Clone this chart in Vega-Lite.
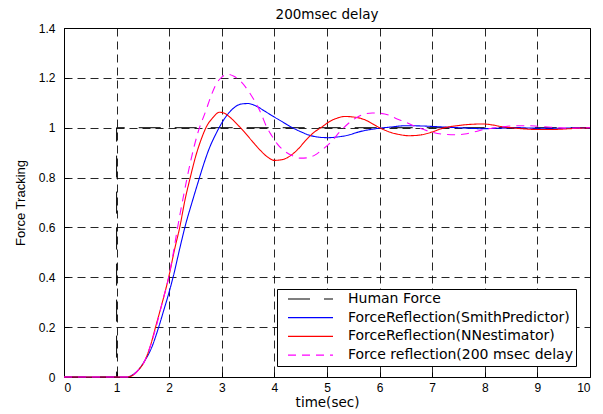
{
  "$schema": "https://vega.github.io/schema/vega-lite/v6.json",
  "width": 526,
  "height": 349,
  "autosize": {"type": "none"},
  "padding": {"left": 64, "top": 28, "right": 13, "bottom": 37},
  "background": "white",
  "title": {"text": "200msec delay", "font": "DejaVu Sans", "fontSize": 13.5, "fontWeight": "normal", "color": "black", "offset": 1, "anchor": "middle"},
  "config": {
    "view": {"stroke": "black", "strokeWidth": 1},
    "axis": {
      "domain": false,
      "grid": true,
      "gridColor": "#000000",
      "gridOpacity": 0.85,
      "gridDash": [8, 5],
      "gridWidth": 1,
      "ticks": true,
      "tickColor": "black",
      "tickSize": -5,
      "labelFont": "Liberation Sans",
      "labelFontSize": 12,
      "labelColor": "black",
      "titleColor": "black",
      "titleFontWeight": "normal"
    }
  },
  "data": {
    "values": [
      {"series": "Human Force", "time": 0, "force": 0},
      {"series": "Human Force", "time": 1, "force": 1},
      {"series": "Human Force", "time": 10, "force": 1},

      {"series": "ForceReflection(SmithPredictor)", "time": 0, "force": 0},
      {"series": "ForceReflection(SmithPredictor)", "time": 1.2, "force": 0},
      {"series": "ForceReflection(SmithPredictor)", "time": 1.3, "force": 0.008},
      {"series": "ForceReflection(SmithPredictor)", "time": 1.4, "force": 0.025},
      {"series": "ForceReflection(SmithPredictor)", "time": 1.52, "force": 0.06},
      {"series": "ForceReflection(SmithPredictor)", "time": 1.67, "force": 0.12},
      {"series": "ForceReflection(SmithPredictor)", "time": 1.8, "force": 0.2},
      {"series": "ForceReflection(SmithPredictor)", "time": 1.9, "force": 0.27},
      {"series": "ForceReflection(SmithPredictor)", "time": 1.99, "force": 0.334},
      {"series": "ForceReflection(SmithPredictor)", "time": 2.09, "force": 0.414},
      {"series": "ForceReflection(SmithPredictor)", "time": 2.2, "force": 0.515},
      {"series": "ForceReflection(SmithPredictor)", "time": 2.31, "force": 0.61},
      {"series": "ForceReflection(SmithPredictor)", "time": 2.44, "force": 0.705},
      {"series": "ForceReflection(SmithPredictor)", "time": 2.54, "force": 0.775},
      {"series": "ForceReflection(SmithPredictor)", "time": 2.65, "force": 0.85},
      {"series": "ForceReflection(SmithPredictor)", "time": 2.76, "force": 0.916},
      {"series": "ForceReflection(SmithPredictor)", "time": 2.89, "force": 0.976},
      {"series": "ForceReflection(SmithPredictor)", "time": 3.08, "force": 1.045},
      {"series": "ForceReflection(SmithPredictor)", "time": 3.22, "force": 1.078},
      {"series": "ForceReflection(SmithPredictor)", "time": 3.37, "force": 1.095},
      {"series": "ForceReflection(SmithPredictor)", "time": 3.5, "force": 1.097},
      {"series": "ForceReflection(SmithPredictor)", "time": 3.66, "force": 1.086},
      {"series": "ForceReflection(SmithPredictor)", "time": 3.82, "force": 1.066},
      {"series": "ForceReflection(SmithPredictor)", "time": 3.98, "force": 1.045},
      {"series": "ForceReflection(SmithPredictor)", "time": 4.15, "force": 1.024},
      {"series": "ForceReflection(SmithPredictor)", "time": 4.3, "force": 1.005},
      {"series": "ForceReflection(SmithPredictor)", "time": 4.5, "force": 0.984},
      {"series": "ForceReflection(SmithPredictor)", "time": 4.68, "force": 0.969},
      {"series": "ForceReflection(SmithPredictor)", "time": 4.85, "force": 0.962},
      {"series": "ForceReflection(SmithPredictor)", "time": 5.02, "force": 0.96},
      {"series": "ForceReflection(SmithPredictor)", "time": 5.2, "force": 0.963},
      {"series": "ForceReflection(SmithPredictor)", "time": 5.4, "force": 0.97},
      {"series": "ForceReflection(SmithPredictor)", "time": 5.6, "force": 0.983},
      {"series": "ForceReflection(SmithPredictor)", "time": 5.86, "force": 0.994},
      {"series": "ForceReflection(SmithPredictor)", "time": 6.18, "force": 1.002},
      {"series": "ForceReflection(SmithPredictor)", "time": 6.5, "force": 1.008},
      {"series": "ForceReflection(SmithPredictor)", "time": 6.8, "force": 1.007},
      {"series": "ForceReflection(SmithPredictor)", "time": 7.1, "force": 1.004},
      {"series": "ForceReflection(SmithPredictor)", "time": 7.4, "force": 1.001},
      {"series": "ForceReflection(SmithPredictor)", "time": 7.7, "force": 0.998},
      {"series": "ForceReflection(SmithPredictor)", "time": 7.95, "force": 0.996},
      {"series": "ForceReflection(SmithPredictor)", "time": 8.25, "force": 0.998},
      {"series": "ForceReflection(SmithPredictor)", "time": 8.6, "force": 1.0},
      {"series": "ForceReflection(SmithPredictor)", "time": 9.0, "force": 0.998},
      {"series": "ForceReflection(SmithPredictor)", "time": 9.4, "force": 0.998},
      {"series": "ForceReflection(SmithPredictor)", "time": 10, "force": 1.0},

      {"series": "ForceReflection(NNestimator)", "time": 0, "force": 0},
      {"series": "ForceReflection(NNestimator)", "time": 1.2, "force": 0},
      {"series": "ForceReflection(NNestimator)", "time": 1.3, "force": 0.006},
      {"series": "ForceReflection(NNestimator)", "time": 1.4, "force": 0.025},
      {"series": "ForceReflection(NNestimator)", "time": 1.54, "force": 0.067},
      {"series": "ForceReflection(NNestimator)", "time": 1.65, "force": 0.13},
      {"series": "ForceReflection(NNestimator)", "time": 1.74, "force": 0.2},
      {"series": "ForceReflection(NNestimator)", "time": 1.87, "force": 0.3},
      {"series": "ForceReflection(NNestimator)", "time": 1.99, "force": 0.4},
      {"series": "ForceReflection(NNestimator)", "time": 2.1, "force": 0.51},
      {"series": "ForceReflection(NNestimator)", "time": 2.2, "force": 0.6},
      {"series": "ForceReflection(NNestimator)", "time": 2.3, "force": 0.71},
      {"series": "ForceReflection(NNestimator)", "time": 2.4, "force": 0.8},
      {"series": "ForceReflection(NNestimator)", "time": 2.51, "force": 0.89},
      {"series": "ForceReflection(NNestimator)", "time": 2.62, "force": 0.96},
      {"series": "ForceReflection(NNestimator)", "time": 2.71, "force": 1.005},
      {"series": "ForceReflection(NNestimator)", "time": 2.82, "force": 1.038},
      {"series": "ForceReflection(NNestimator)", "time": 2.96, "force": 1.062},
      {"series": "ForceReflection(NNestimator)", "time": 3.05, "force": 1.058},
      {"series": "ForceReflection(NNestimator)", "time": 3.15, "force": 1.043},
      {"series": "ForceReflection(NNestimator)", "time": 3.3, "force": 1.012},
      {"series": "ForceReflection(NNestimator)", "time": 3.42, "force": 0.985},
      {"series": "ForceReflection(NNestimator)", "time": 3.57, "force": 0.948},
      {"series": "ForceReflection(NNestimator)", "time": 3.72, "force": 0.912},
      {"series": "ForceReflection(NNestimator)", "time": 3.86, "force": 0.884},
      {"series": "ForceReflection(NNestimator)", "time": 4.0, "force": 0.869},
      {"series": "ForceReflection(NNestimator)", "time": 4.15, "force": 0.872},
      {"series": "ForceReflection(NNestimator)", "time": 4.3, "force": 0.887},
      {"series": "ForceReflection(NNestimator)", "time": 4.44, "force": 0.912},
      {"series": "ForceReflection(NNestimator)", "time": 4.6, "force": 0.95},
      {"series": "ForceReflection(NNestimator)", "time": 4.75, "force": 0.981},
      {"series": "ForceReflection(NNestimator)", "time": 4.89, "force": 1.001},
      {"series": "ForceReflection(NNestimator)", "time": 5.05, "force": 1.025},
      {"series": "ForceReflection(NNestimator)", "time": 5.2, "force": 1.039},
      {"series": "ForceReflection(NNestimator)", "time": 5.34, "force": 1.045},
      {"series": "ForceReflection(NNestimator)", "time": 5.5, "force": 1.043},
      {"series": "ForceReflection(NNestimator)", "time": 5.73, "force": 1.031},
      {"series": "ForceReflection(NNestimator)", "time": 5.87, "force": 1.015},
      {"series": "ForceReflection(NNestimator)", "time": 6.0, "force": 1.0},
      {"series": "ForceReflection(NNestimator)", "time": 6.2, "force": 0.982},
      {"series": "ForceReflection(NNestimator)", "time": 6.37, "force": 0.973},
      {"series": "ForceReflection(NNestimator)", "time": 6.55, "force": 0.968},
      {"series": "ForceReflection(NNestimator)", "time": 6.7, "force": 0.969},
      {"series": "ForceReflection(NNestimator)", "time": 6.85, "force": 0.974},
      {"series": "ForceReflection(NNestimator)", "time": 7.0, "force": 0.983},
      {"series": "ForceReflection(NNestimator)", "time": 7.2, "force": 0.998},
      {"series": "ForceReflection(NNestimator)", "time": 7.47, "force": 1.008},
      {"series": "ForceReflection(NNestimator)", "time": 7.7, "force": 1.013},
      {"series": "ForceReflection(NNestimator)", "time": 7.96, "force": 1.015},
      {"series": "ForceReflection(NNestimator)", "time": 8.15, "force": 1.011},
      {"series": "ForceReflection(NNestimator)", "time": 8.3, "force": 1.005},
      {"series": "ForceReflection(NNestimator)", "time": 8.5, "force": 1.0},
      {"series": "ForceReflection(NNestimator)", "time": 8.7, "force": 0.996},
      {"series": "ForceReflection(NNestimator)", "time": 9.0, "force": 0.993},
      {"series": "ForceReflection(NNestimator)", "time": 9.3, "force": 0.993},
      {"series": "ForceReflection(NNestimator)", "time": 9.6, "force": 0.996},
      {"series": "ForceReflection(NNestimator)", "time": 10, "force": 1.0},

      {"series": "Force reflection(200 msec delay", "time": 0, "force": 0},
      {"series": "Force reflection(200 msec delay", "time": 1.2, "force": 0},
      {"series": "Force reflection(200 msec delay", "time": 1.3, "force": 0.006},
      {"series": "Force reflection(200 msec delay", "time": 1.4, "force": 0.025},
      {"series": "Force reflection(200 msec delay", "time": 1.54, "force": 0.067},
      {"series": "Force reflection(200 msec delay", "time": 1.65, "force": 0.13},
      {"series": "Force reflection(200 msec delay", "time": 1.75, "force": 0.2},
      {"series": "Force reflection(200 msec delay", "time": 1.87, "force": 0.3},
      {"series": "Force reflection(200 msec delay", "time": 1.99, "force": 0.4},
      {"series": "Force reflection(200 msec delay", "time": 2.08, "force": 0.5},
      {"series": "Force reflection(200 msec delay", "time": 2.16, "force": 0.6},
      {"series": "Force reflection(200 msec delay", "time": 2.28, "force": 0.735},
      {"series": "Force reflection(200 msec delay", "time": 2.41, "force": 0.868},
      {"series": "Force reflection(200 msec delay", "time": 2.54, "force": 0.976},
      {"series": "Force reflection(200 msec delay", "time": 2.7, "force": 1.07},
      {"series": "Force reflection(200 msec delay", "time": 2.8, "force": 1.13},
      {"series": "Force reflection(200 msec delay", "time": 2.89, "force": 1.174},
      {"series": "Force reflection(200 msec delay", "time": 3.0, "force": 1.203},
      {"series": "Force reflection(200 msec delay", "time": 3.12, "force": 1.214},
      {"series": "Force reflection(200 msec delay", "time": 3.23, "force": 1.206},
      {"series": "Force reflection(200 msec delay", "time": 3.35, "force": 1.188},
      {"series": "Force reflection(200 msec delay", "time": 3.54, "force": 1.136},
      {"series": "Force reflection(200 msec delay", "time": 3.74, "force": 1.06},
      {"series": "Force reflection(200 msec delay", "time": 3.86, "force": 1.0},
      {"series": "Force reflection(200 msec delay", "time": 3.95, "force": 0.968},
      {"series": "Force reflection(200 msec delay", "time": 4.05, "force": 0.936},
      {"series": "Force reflection(200 msec delay", "time": 4.2, "force": 0.905},
      {"series": "Force reflection(200 msec delay", "time": 4.37, "force": 0.885},
      {"series": "Force reflection(200 msec delay", "time": 4.5, "force": 0.878},
      {"series": "Force reflection(200 msec delay", "time": 4.62, "force": 0.879},
      {"series": "Force reflection(200 msec delay", "time": 4.76, "force": 0.889},
      {"series": "Force reflection(200 msec delay", "time": 4.9, "force": 0.91},
      {"series": "Force reflection(200 msec delay", "time": 5.08, "force": 0.943},
      {"series": "Force reflection(200 msec delay", "time": 5.25, "force": 0.985},
      {"series": "Force reflection(200 msec delay", "time": 5.4, "force": 1.016},
      {"series": "Force reflection(200 msec delay", "time": 5.6, "force": 1.045},
      {"series": "Force reflection(200 msec delay", "time": 5.86, "force": 1.059},
      {"series": "Force reflection(200 msec delay", "time": 6.0, "force": 1.058},
      {"series": "Force reflection(200 msec delay", "time": 6.18, "force": 1.05},
      {"series": "Force reflection(200 msec delay", "time": 6.3, "force": 1.038},
      {"series": "Force reflection(200 msec delay", "time": 6.5, "force": 1.022},
      {"series": "Force reflection(200 msec delay", "time": 6.7, "force": 1.003},
      {"series": "Force reflection(200 msec delay", "time": 6.95, "force": 0.985},
      {"series": "Force reflection(200 msec delay", "time": 7.2, "force": 0.974},
      {"series": "Force reflection(200 msec delay", "time": 7.47, "force": 0.972},
      {"series": "Force reflection(200 msec delay", "time": 7.62, "force": 0.975},
      {"series": "Force reflection(200 msec delay", "time": 7.8, "force": 0.983},
      {"series": "Force reflection(200 msec delay", "time": 7.96, "force": 0.992},
      {"series": "Force reflection(200 msec delay", "time": 8.2, "force": 1.0},
      {"series": "Force reflection(200 msec delay", "time": 8.4, "force": 1.005},
      {"series": "Force reflection(200 msec delay", "time": 8.6, "force": 1.008},
      {"series": "Force reflection(200 msec delay", "time": 8.8, "force": 1.008},
      {"series": "Force reflection(200 msec delay", "time": 9.0, "force": 1.006},
      {"series": "Force reflection(200 msec delay", "time": 9.2, "force": 1.003},
      {"series": "Force reflection(200 msec delay", "time": 9.4, "force": 1.0},
      {"series": "Force reflection(200 msec delay", "time": 9.6, "force": 0.998},
      {"series": "Force reflection(200 msec delay", "time": 9.8, "force": 0.999},
      {"series": "Force reflection(200 msec delay", "time": 10, "force": 1.0}
    ]
  },
  "encoding": {
    "x": {
      "field": "time", "type": "quantitative",
      "scale": {"domain": [0, 10], "nice": false, "zero": false},
      "axis": {"values": [0,1,2,3,4,5,6,7,8,9,10], "format": "~r", "title": "time(sec)", "titleFont": "DejaVu Sans", "titleFontSize": 13.5, "labelPadding": 10, "titlePadding": 2}
    },
    "y": {
      "field": "force", "type": "quantitative",
      "scale": {"domain": [0, 1.4], "nice": false, "zero": false},
      "axis": {"values": [0,0.2,0.4,0.6,0.8,1,1.2,1.4], "format": "~r", "title": "Force Tracking", "titleFont": "Liberation Sans", "titleFontSize": 13, "labelPadding": 14, "titlePadding": 11}
    },
    "color": {
      "field": "series", "type": "nominal",
      "scale": {
        "domain": ["Human Force", "ForceReflection(SmithPredictor)", "ForceReflection(NNestimator)", "Force reflection(200 msec delay"],
        "range": ["#000000", "#0000ff", "#ff0000", "#ff00ff"]
      },
      "legend": {
        "orient": "none", "legendX": 213, "legendY": 261, "title": null,
        "strokeColor": "black", "fillColor": "white", "padding": 3,
        "symbolType": "stroke", "symbolSize": 2025, "symbolStrokeWidth": 1.2, "symbolOffset": 7,
        "clipHeight": 14,
        "labelOffset": 14, "labelFont": "DejaVu Sans", "labelFontSize": 14, "labelColor": "black",
        "rowPadding": 4.7, "labelLimit": 400
      }
    },
    "strokeDash": {
      "field": "series", "type": "nominal",
      "scale": {
        "domain": ["Human Force", "ForceReflection(SmithPredictor)", "ForceReflection(NNestimator)", "Force reflection(200 msec delay"],
        "range": [[22, 14], [1, 0], [1, 0], [8, 6]]
      },
      "legend": {
        "orient": "none", "legendX": 213, "legendY": 261, "title": null,
        "strokeColor": "black", "fillColor": "white", "padding": 3,
        "symbolType": "stroke", "symbolSize": 2025, "symbolStrokeWidth": 1.2, "symbolOffset": 7,
        "clipHeight": 14,
        "labelOffset": 14, "labelFont": "DejaVu Sans", "labelFontSize": 14, "labelColor": "black",
        "rowPadding": 4.7, "labelLimit": 400
      }
    }
  },
  "layer": [
    {
      "transform": [{"filter": "datum.series === 'Human Force'"}],
      "mark": {"type": "line", "interpolate": "step-after", "strokeWidth": 1}
    },
    {
      "transform": [{"filter": "datum.series === 'ForceReflection(SmithPredictor)'"}],
      "mark": {"type": "line", "interpolate": "monotone", "strokeWidth": 1.1}
    },
    {
      "transform": [{"filter": "datum.series === 'ForceReflection(NNestimator)'"}],
      "mark": {"type": "line", "interpolate": "monotone", "strokeWidth": 1.1}
    },
    {
      "transform": [{"filter": "datum.series === 'Force reflection(200 msec delay'"}],
      "mark": {"type": "line", "interpolate": "monotone", "strokeWidth": 1.1}
    }
  ]
}
